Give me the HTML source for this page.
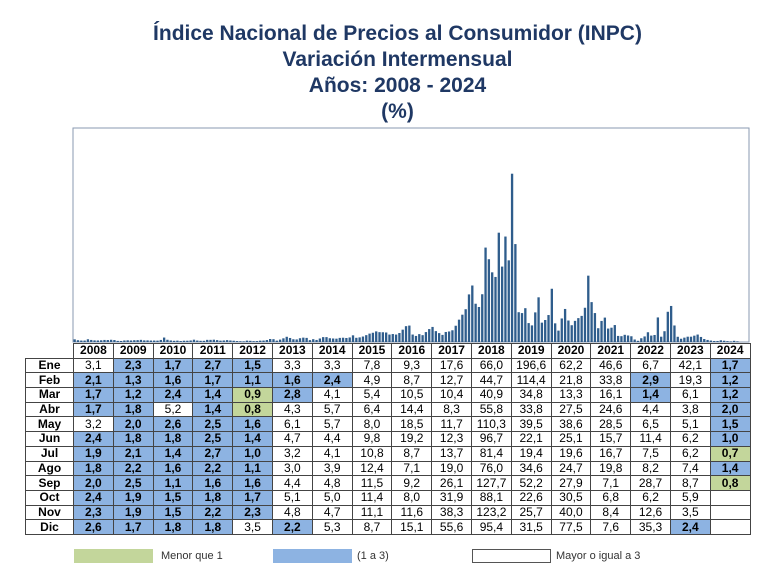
<!DOCTYPE html>
<html><head><meta charset="utf-8">
<style>
body{margin:0;background:#fff;font-family:"Liberation Sans",sans-serif;}
#wrap{position:relative;width:767px;height:583px;overflow:hidden;}
.t{position:absolute;left:0;width:795px;text-align:center;font-weight:bold;font-size:21px;color:#1f3864;}
table{position:absolute;left:25px;top:343px;border-collapse:collapse;font-size:12px;}
td{border:1px solid #444;height:13.7px;padding:0;text-align:center;line-height:13px;}
td.m{width:47px;font-weight:bold;}
td.y{width:38.8px;}
.b{background:#8db3e2;font-weight:bold;}
.g{background:#c3d69b;font-weight:bold;}
.lg{position:absolute;top:549px;width:79px;height:14px;}
.lt{position:absolute;top:550px;font-size:11px;color:#333;}
</style></head><body>
<div id="wrap">
<div class="t" style="top:22px">Índice Nacional de Precios al Consumidor (INPC)</div>
<div class="t" style="top:48px">Variación Intermensual</div>
<div class="t" style="top:74px">Años: 2008 - 2024</div>
<div class="t" style="top:100px">(%)</div>
<svg id="chart" width="767" height="583" style="position:absolute;left:0;top:0"></svg>
<table id="tbl"></table>
<div class="lg" style="left:74px;background:#c3d69b"></div>
<div class="lt" style="left:161px">Menor que 1</div>
<div class="lg" style="left:273px;background:#8db3e2"></div>
<div class="lt" style="left:357px">(1 a 3)</div>
<div class="lg" style="left:472px;border:1px solid #555;box-sizing:border-box"></div>
<div class="lt" style="left:556px">Mayor o igual a 3</div>
</div>
<script>
const years=[2008,2009,2010,2011,2012,2013,2014,2015,2016,2017,2018,2019,2020,2021,2022,2023,2024];
const months=["Ene","Feb","Mar","Abr","May","Jun","Jul","Ago","Sep","Oct","Nov","Dic"];
const v2008=[3.1,2.1,1.7,1.7,3.2,2.4,1.9,1.8,2.0,2.4,2.3,2.6];
const v2009=[2.3,1.3,1.2,1.8,2.0,1.8,2.1,2.2,2.5,1.9,1.9,1.7];
const v2010=[1.7,1.6,2.4,5.2,2.6,1.8,1.4,1.6,1.1,1.5,1.5,1.8];
const v2011=[2.7,1.7,1.4,1.4,2.5,2.5,2.7,2.2,1.6,1.8,2.2,1.8];
const v2012=[1.5,1.1,0.9,0.8,1.6,1.4,1.0,1.1,1.6,1.7,2.3,3.5];
const v2013=[3.3,1.6,2.8,4.3,6.1,4.7,3.2,3.0,4.4,5.1,4.8,2.2];
const v2014=[3.3,2.4,4.1,5.7,5.7,4.4,4.1,3.9,4.8,5.0,4.7,5.3];
const v2015=[7.8,4.9,5.4,6.4,8.0,9.8,10.8,12.4,11.5,11.4,11.1,8.7];
const v2016=[9.3,8.7,10.5,14.4,18.5,19.2,8.7,7.1,9.2,8.0,11.6,15.1];
const v2017=[17.6,12.7,10.4,8.3,11.7,12.3,13.7,19.0,26.1,31.9,38.3,55.6];
const v2018=[66.0,44.7,40.9,55.8,110.3,96.7,81.4,76.0,127.7,88.1,123.2,95.4];
const v2019=[196.6,114.4,34.8,33.8,39.5,22.1,19.4,34.6,52.2,22.6,25.7,31.5];
const v2020=[62.2,21.8,13.3,27.5,38.6,25.1,19.6,24.7,27.9,30.5,40.0,77.5];
const v2021=[46.6,33.8,16.1,24.6,28.5,15.7,16.7,19.8,7.1,6.8,8.4,7.6];
const v2022=[6.7,2.9,1.4,4.4,6.5,11.4,7.5,8.2,28.7,6.2,12.6,35.3];
const v2023=[42.1,19.3,6.1,3.8,5.1,6.2,6.2,7.4,8.7,5.9,3.5,2.4];
const v2024=[1.7,1.2,1.2,2.0,1.5,1.0,0.7,1.4,0.8];
const series=[v2008,v2009,v2010,v2011,v2012,v2013,v2014,v2015,v2016,v2017,v2018,v2019,v2020,v2021,v2022,v2023,v2024];

const NS="http://www.w3.org/2000/svg";
const svg=document.getElementById('chart');
const X0=73,X1=749,Y0=128,Y1=342,YMAX=250;
const slot=(X1-X0)/(years.length*12);
const xs=i=>X0+i*slot;
const ys=v=>Y1-(v/YMAX)*(Y1-Y0);
const frame=document.createElementNS(NS,'rect');
frame.setAttribute('x',X0);frame.setAttribute('y',Y0);frame.setAttribute('width',X1-X0);frame.setAttribute('height',Y1-Y0);
frame.setAttribute('fill','none');frame.setAttribute('stroke','#8a9ab0');


svg.appendChild(frame);
series.forEach((arr,yi)=>{arr.forEach((v,mi)=>{
  const r=document.createElementNS(NS,'rect');
  const i=yi*12+mi;
  r.setAttribute('x',xs(i)+0.5);r.setAttribute('width',slot*0.7);
  r.setAttribute('y',ys(v));r.setAttribute('height',Math.max(Y1-ys(v),0.8));
  r.setAttribute('fill','#2f5d8c');
  
  
  svg.appendChild(r);
});});

const tbl=document.getElementById('tbl');
let h='<tr><td style="border:none" class="m"></td>'+years.map(y=>'<td class="y" style="font-weight:bold">'+y+'</td>').join('')+'</tr>';
months.forEach((m,mi)=>{
  h+='<tr><td class="m">'+m+'</td>';
  series.forEach(arr=>{
    const v=arr[mi];
    if(v===undefined){h+='<td class="y"></td>';return;}
    const c=v<1?'g':(v<3?'b':'');
    h+='<td class="y '+c+'">'+v.toFixed(1).replace('.',',')+'</td>';
  });
  h+='</tr>';
});
tbl.innerHTML=h;
const trs=tbl.querySelectorAll('tr');
trs.forEach((tr,i)=>{
  
  
});
</script>
</body></html>
